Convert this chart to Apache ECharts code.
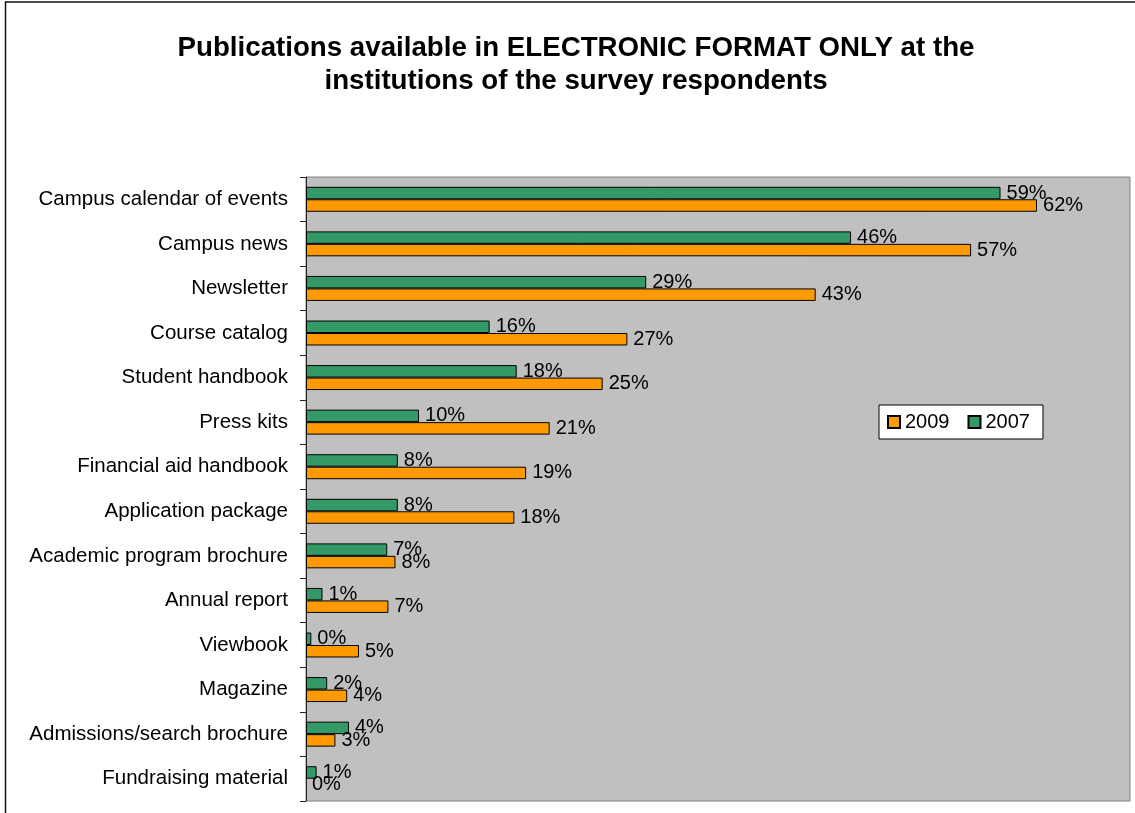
<!DOCTYPE html>
<html>
<head>
<meta charset="utf-8">
<title>Publications available in electronic format only</title>
<script src="https://cdn.jsdelivr.net/npm/echarts@6/dist/echarts.min.js"></script>
<style>
  html, body { margin: 0; padding: 0; background: #fff; }
  #main { width: 1135px; height: 813px; }
</style>
</head>
<body>
<div id="main"></div>
<script>
// categories, top to bottom
var categories = [
  "Campus calendar of events",
  "Campus news",
  "Newsletter",
  "Course catalog",
  "Student handbook",
  "Press kits",
  "Financial aid handbook",
  "Application package",
  "Academic program brochure",
  "Annual report",
  "Viewbook",
  "Magazine",
  "Admissions/search brochure",
  "Fundraising material"
];
// percent values (labels show them rounded)
var values2007 = [59, 46.3, 28.9, 15.6, 17.9, 9.6, 7.8, 7.8, 6.9, 1.4, 0.45, 1.8, 3.65, 0.9];
var values2009 = [62.1, 56.5, 43.3, 27.3, 25.2, 20.7, 18.7, 17.7, 7.6, 7, 4.5, 3.5, 2.5, 0];

var font = "'Liberation Sans', Arial, sans-serif";
var myChart = echarts.init(document.getElementById("main"));

function pct(p) {
  return Math.round(p.value) + "%";
}

// zero-length bars get no outline
function barData(arr) {
  return arr.map(function (v) {
    return v === 0 ? { value: v, itemStyle: { borderWidth: 0 } } : v;
  });
}

var option = {
  animation: false,
  textStyle: { fontFamily: font },
  title: {
    text: "Publications available in ELECTRONIC FORMAT ONLY at the\ninstitutions of the survey respondents",
    left: 576,
    top: 32,
    padding: 0,
    textAlign: "center",
    textStyle: {
      fontFamily: font,
      fontSize: 27.7,
      fontWeight: "bold",
      color: "#000",
      lineHeight: 33,
      align: "center"
    }
  },
  legend: {
    data: ["2009", "2007"],
    orient: "horizontal",
    left: 879,
    top: 405,
    padding: [7, 13, 7, 8],
    itemWidth: 12,
    itemHeight: 12,
    itemGap: 18,
    icon: "rect",
    backgroundColor: "#fff",
    borderColor: "#000",
    borderWidth: 1,
    borderRadius: 0,
    textStyle: { fontFamily: font, fontSize: 20, color: "#000" }
  },
  grid: {
    show: true,
    left: 306,
    top: 177,
    right: 5,
    bottom: 12,
    backgroundColor: "#c0c0c0",
    borderColor: "#808080",
    borderWidth: 1,
    containLabel: false
  },
  xAxis: {
    type: "value",
    min: 0,
    max: 70,
    show: false
  },
  yAxis: {
    type: "category",
    inverse: true,
    data: categories,
    axisLine: { show: true, lineStyle: { color: "#222", width: 1 } },
    axisTick: { show: true, length: 6, lineStyle: { color: "#222" } },
    axisLabel: {
      fontFamily: font,
      fontSize: 20.5,
      color: "#000",
      margin: 18
    },
    splitLine: { show: false }
  },
  series: [
    {
      name: "2007",
      type: "bar",
      data: barData(values2007),
      barGap: "0%",
      barCategoryGap: "44%",
      itemStyle: { color: "#339966", borderColor: "#000", borderWidth: 1 },
      label: {
        show: true,
        position: "right",
        distance: 6,
        fontFamily: font,
        fontSize: 20,
        color: "#000",
        formatter: pct
      }
    },
    {
      name: "2009",
      type: "bar",
      data: barData(values2009),
      barGap: "0%",
      barCategoryGap: "44%",
      itemStyle: { color: "#ff9900", borderColor: "#000", borderWidth: 1 },
      label: {
        show: true,
        position: "right",
        distance: 6,
        fontFamily: font,
        fontSize: 20,
        color: "#000",
        formatter: pct
      }
    }
  ],
  graphic: [
    {
      // outer chart frame (cut off at right and bottom)
      type: "rect",
      silent: true,
      shape: { x: 5.5, y: 2, width: 1200, height: 900 },
      style: { fill: null, stroke: "#111", lineWidth: 1.5 }
    }
  ]
};

myChart.setOption(option);
</script>
</body>
</html>
